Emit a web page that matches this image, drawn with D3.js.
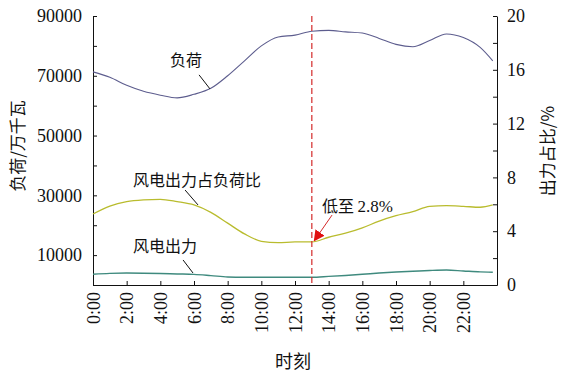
<!DOCTYPE html>
<html>
<head>
<meta charset="utf-8">
<script src="https://cdn.jsdelivr.net/npm/d3@7"></script>
<style>
  body { margin: 0; background: #fff; }
  text { fill: #111; }
</style>
</head>
<body>
<div id="chart"></div>
<script>
// hours of the day (last point 23:45)
var hours = [0, 1, 2, 3, 4, 5, 6, 7, 8, 9, 10, 11, 12, 13, 14, 15, 16, 17, 18, 19, 20, 21, 22, 23, 23.75];
// 负荷, 万千瓦
var load = [71300, 69500, 66800, 64800, 63500, 62600, 63800, 65800, 70000, 75000, 80000, 83000, 83600, 84900,
            85200, 84700, 84300, 82500, 80500, 79700, 81800, 84000, 82800, 79500, 75000];
// 风电出力, 万千瓦
var wind = [3600, 3900, 4000, 3950, 3850, 3700, 3550, 3150, 2700, 2580, 2570, 2580, 2580, 2600,
            2880, 3200, 3580, 4000, 4350, 4600, 4850, 5000, 4700, 4400, 4250];
// 风电出力占负荷比, %
var ratio = [5.28, 5.87, 6.2, 6.33, 6.37, 6.2, 5.95, 5.4, 4.6, 3.8, 3.25, 3.15, 3.2, 3.2,
             3.55, 3.85, 4.25, 4.75, 5.15, 5.45, 5.85, 5.9, 5.85, 5.78, 5.95];

var xTicks = [0, 2, 4, 6, 8, 10, 12, 14, 16, 18, 20, 22];
var leftTicks = [0, 10000, 20000, 30000, 40000, 50000, 60000, 70000, 80000, 90000];
var leftLabels = [10000, 30000, 50000, 70000, 90000];
var rightTicks = [0, 2, 4, 6, 8, 10, 12, 14, 16, 18, 20];
var rightLabels = [0, 4, 8, 12, 16, 20];
var markHour = 13;

var width = 564, height = 377;
var svg = d3.select("#chart").append("svg")
    .attr("width", width)
    .attr("height", height);

var x = d3.scaleLinear().domain([0, 24]).range([93, 497]);
var yL = d3.scaleLinear().domain([0, 90000]).range([285, 16]);
var yR = d3.scaleLinear().domain([0, 20]).range([285, 16]);

var cjk = "'Noto Sans CJK SC', sans-serif";
var serif = "Liberation Serif, Noto Serif, FreeSerif, DejaVu Serif, Times New Roman, serif";

// axes
var xAxis = d3.axisBottom(x)
    .tickValues(xTicks)
    .tickSizeInner(-4)
    .tickSizeOuter(0)
    .tickFormat(function (d) { return d + ":00"; });
var gx = svg.append("g").attr("transform", "translate(0,285)").call(xAxis);
gx.selectAll("text")
    .attr("transform", "rotate(-90)")
    .attr("x", -7)
    .attr("y", 0)
    .attr("dy", "0.35em")
    .style("text-anchor", "end");

var leftAxis = d3.axisLeft(yL)
    .tickValues(leftTicks)
    .tickSizeInner(-4)
    .tickSizeOuter(0)
    .tickPadding(11)
    .tickFormat(function (d) { return leftLabels.indexOf(d) >= 0 ? d : ""; });
svg.append("g").attr("transform", "translate(93,0)").call(leftAxis);

var rightAxis = d3.axisRight(yR)
    .tickValues(rightTicks)
    .tickSizeInner(-4)
    .tickSizeOuter(0)
    .tickPadding(10)
    .tickFormat(function (d) { return rightLabels.indexOf(d) >= 0 ? d : ""; });
svg.append("g").attr("transform", "translate(497,0)").call(rightAxis);

svg.selectAll("g").attr("font-family", serif).attr("font-size", 18);
svg.selectAll(".domain, .tick line").attr("stroke", "#111").attr("stroke-width", 1);
svg.selectAll(".tick text").attr("font-family", serif).attr("fill", "#111");

// axis titles
svg.append("text")
    .attr("transform", "translate(24,146) rotate(-90)")
    .attr("text-anchor", "middle")
    .style("font-family", cjk).style("font-size", "17px")
    .text("负荷/万千瓦");
svg.append("text")
    .attr("transform", "translate(554,151) rotate(-90)")
    .attr("text-anchor", "middle")
    .style("font-family", cjk).style("font-size", "17px")
    .text("出力占比/%");
svg.append("text")
    .attr("x", 293).attr("y", 368)
    .attr("text-anchor", "middle")
    .style("font-family", cjk).style("font-size", "18px")
    .text("时刻");

// lines
var lineL = d3.line()
    .x(function (d, i) { return x(hours[i]); })
    .y(function (d) { return yL(d); })
    .curve(d3.curveMonotoneX);
var lineR = d3.line()
    .x(function (d, i) { return x(hours[i]); })
    .y(function (d) { return yR(d); })
    .curve(d3.curveMonotoneX);

svg.append("path").datum(load).attr("d", lineL)
    .attr("fill", "none").attr("stroke", "#5d5d8e").attr("stroke-width", 1.1);
svg.append("path").datum(ratio).attr("d", lineR)
    .attr("fill", "none").attr("stroke", "#b9bc2e").attr("stroke-width", 1.3);
svg.append("path").datum(wind).attr("d", lineL)
    .attr("fill", "none").attr("stroke", "#3f8a7e").attr("stroke-width", 1.4);

// red dashed marker line
svg.append("line")
    .attr("x1", x(markHour)).attr("x2", x(markHour))
    .attr("y1", yL(90000)).attr("y2", yL(0))
    .attr("stroke", "#d42a2a").attr("stroke-width", 1.2)
    .attr("stroke-dasharray", "6,3");

// annotations (anchors in data units)
function label(h, v, scale, txt) {
    svg.append("text")
        .attr("x", x(h)).attr("y", scale(v))
        .style("font-family", cjk).style("font-size", "16px")
        .text(txt);
}
function leader(h1, v1, h2, v2, scale) {
    svg.append("line")
        .attr("x1", x(h1)).attr("y1", scale(v1))
        .attr("x2", x(h2)).attr("y2", scale(v2))
        .attr("stroke", "#111").attr("stroke-width", 1);
}

label(4.58, 73300, yL, "负荷");
leader(6.3, 70300, 6.95, 65600, yL);

label(2.38, 7.36, yR, "风电出力占负荷比");
leader(5.47, 7.06, 6.24, 5.95, yR);

label(2.38, 11000, yL, "风电出力");
leader(5.35, 8370, 5.94, 4015, yL);

var t = svg.append("text")
    .attr("x", x(13.6)).attr("y", yR(5.43));
t.append("tspan").style("font-family", cjk).style("font-size", "16px").text("低至 ");
t.append("tspan").attr("font-family", serif).style("font-size", "17px").text("2.8%");

svg.append("defs").append("marker")
    .attr("id", "arrow")
    .attr("viewBox", "0 0 10 10")
    .attr("refX", 9).attr("refY", 5)
    .attr("markerWidth", 11).attr("markerHeight", 11)
    .attr("markerUnits", "userSpaceOnUse")
    .attr("orient", "auto")
    .append("path")
    .attr("d", "M0,0L10,5L0,10z")
    .attr("fill", "#e01010");
svg.append("line")
    .attr("x1", x(14.2)).attr("y1", yR(5.2))
    .attr("x2", x(13.15)).attr("y2", yR(3.3))
    .attr("stroke", "#d42a2a").attr("stroke-width", 1)
    .attr("marker-end", "url(#arrow)");
</script>
</body>
</html>
